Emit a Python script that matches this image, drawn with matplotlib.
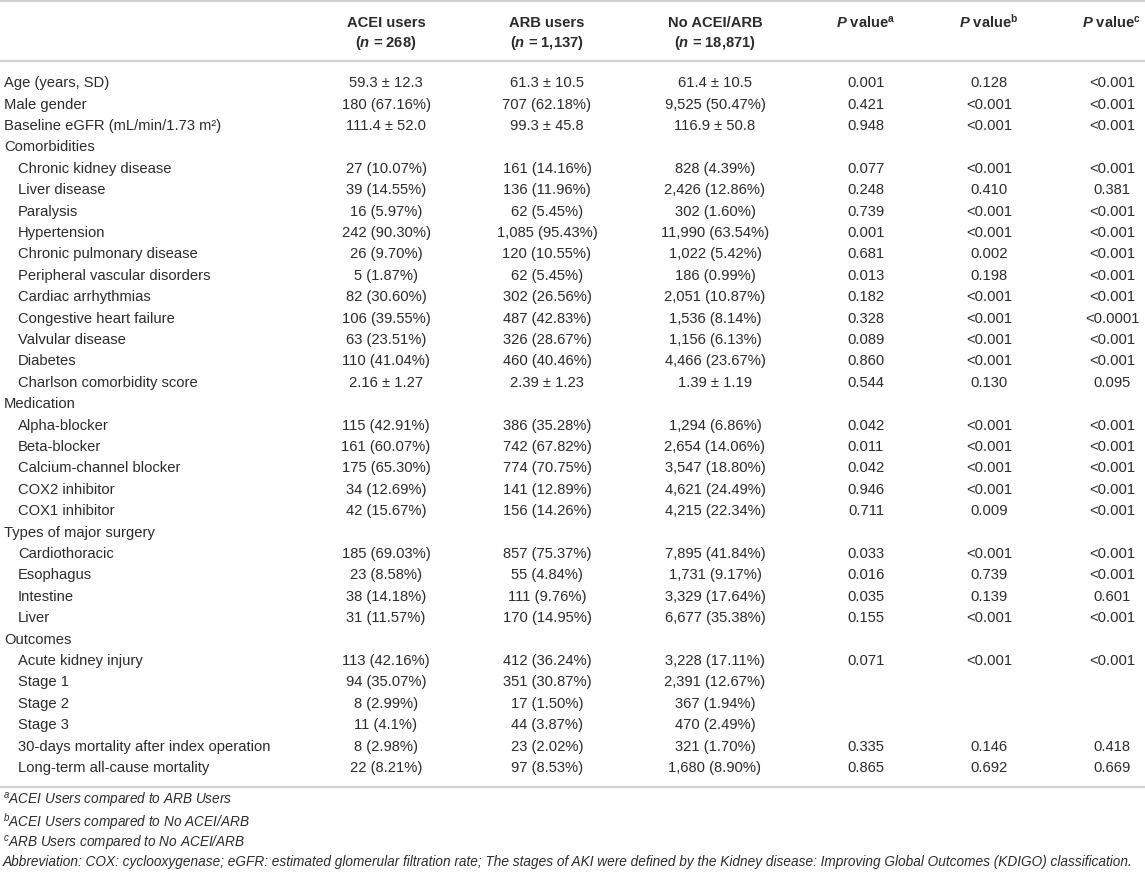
import matplotlib
matplotlib.use("Agg")
import matplotlib.pyplot as plt
from matplotlib import font_manager

# ---------------- data ----------------
col_headers_1 = ["ACEI users", "ARB users", "No ACEI/ARB"]
col_headers_2 = ["268", "1,137", "18,871"]
p_headers = ["a", "b", "c"]

row_labels = [
    "Age (years, SD)", "Male gender", "Baseline eGFR (mL/min/1.73 m\u00b2)",
    "Comorbidities",
    "Chronic kidney disease", "Liver disease", "Paralysis", "Hypertension",
    "Chronic pulmonary disease", "Peripheral vascular disorders",
    "Cardiac arrhythmias", "Congestive heart failure", "Valvular disease",
    "Diabetes", "Charlson comorbidity score",
    "Medication",
    "Alpha-blocker", "Beta-blocker", "Calcium-channel blocker",
    "COX2 inhibitor", "COX1 inhibitor",
    "Types of major surgery",
    "Cardiothoracic", "Esophagus", "Intestine", "Liver",
    "Outcomes",
    "Acute kidney injury", "Stage 1", "Stage 2", "Stage 3",
    "30-days mortality after index operation", "Long-term all-cause mortality",
]
row_indent = [0, 0, 0, 0] + [1] * 11 + [0] + [1] * 5 + [0] + [1] * 4 + [0] + [1] * 6

acei = [
    "59.3 \u00b1 12.3", "180 (67.16%)", "111.4 \u00b1 52.0", "",
    "27 (10.07%)", "39 (14.55%)", "16 (5.97%)", "242 (90.30%)", "26 (9.70%)",
    "5 (1.87%)", "82 (30.60%)", "106 (39.55%)", "63 (23.51%)", "110 (41.04%)",
    "2.16 \u00b1 1.27", "",
    "115 (42.91%)", "161 (60.07%)", "175 (65.30%)", "34 (12.69%)", "42 (15.67%)", "",
    "185 (69.03%)", "23 (8.58%)", "38 (14.18%)", "31 (11.57%)", "",
    "113 (42.16%)", "94 (35.07%)", "8 (2.99%)", "11 (4.1%)", "8 (2.98%)", "22 (8.21%)",
]
arb = [
    "61.3 \u00b1 10.5", "707 (62.18%)", "99.3 \u00b1 45.8", "",
    "161 (14.16%)", "136 (11.96%)", "62 (5.45%)", "1,085 (95.43%)", "120 (10.55%)",
    "62 (5.45%)", "302 (26.56%)", "487 (42.83%)", "326 (28.67%)", "460 (40.46%)",
    "2.39 \u00b1 1.23", "",
    "386 (35.28%)", "742 (67.82%)", "774 (70.75%)", "141 (12.89%)", "156 (14.26%)", "",
    "857 (75.37%)", "55 (4.84%)", "111 (9.76%)", "170 (14.95%)", "",
    "412 (36.24%)", "351 (30.87%)", "17 (1.50%)", "44 (3.87%)", "23 (2.02%)", "97 (8.53%)",
]
none_ = [
    "61.4 \u00b1 10.5", "9,525 (50.47%)", "116.9 \u00b1 50.8", "",
    "828 (4.39%)", "2,426 (12.86%)", "302 (1.60%)", "11,990 (63.54%)", "1,022 (5.42%)",
    "186 (0.99%)", "2,051 (10.87%)", "1,536 (8.14%)", "1,156 (6.13%)", "4,466 (23.67%)",
    "1.39 \u00b1 1.19", "",
    "1,294 (6.86%)", "2,654 (14.06%)", "3,547 (18.80%)", "4,621 (24.49%)", "4,215 (22.34%)", "",
    "7,895 (41.84%)", "1,731 (9.17%)", "3,329 (17.64%)", "6,677 (35.38%)", "",
    "3,228 (17.11%)", "2,391 (12.67%)", "367 (1.94%)", "470 (2.49%)", "321 (1.70%)", "1,680 (8.90%)",
]
p_a = [
    "0.001", "0.421", "0.948", "",
    "0.077", "0.248", "0.739", "0.001", "0.681", "0.013", "0.182", "0.328", "0.089", "0.860",
    "0.544", "",
    "0.042", "0.011", "0.042", "0.946", "0.711", "",
    "0.033", "0.016", "0.035", "0.155", "",
    "0.071", "", "", "", "0.335", "0.865",
]
p_b = [
    "0.128", "<0.001", "<0.001", "",
    "<0.001", "0.410", "<0.001", "<0.001", "0.002", "0.198", "<0.001", "<0.001", "<0.001", "<0.001",
    "0.130", "",
    "<0.001", "<0.001", "<0.001", "<0.001", "0.009", "",
    "<0.001", "0.739", "0.139", "<0.001", "",
    "<0.001", "", "", "", "0.146", "0.692",
]
p_c = [
    "<0.001", "<0.001", "<0.001", "",
    "<0.001", "0.381", "<0.001", "<0.001", "<0.001", "<0.001", "<0.001", "<0.0001", "<0.001", "<0.001",
    "0.095", "",
    "<0.001", "<0.001", "<0.001", "<0.001", "<0.001", "",
    "<0.001", "<0.001", "0.601", "<0.001", "",
    "<0.001", "", "", "", "0.418", "0.669",
]

footnote_marks = ["a", "b", "c"]
footnote_texts = [
    "ACEI Users compared to ARB Users",
    "ACEI Users compared to No ACEI/ARB",
    "ARB Users compared to No ACEI/ARB",
]
abbreviation = ("Abbreviation: COX: cyclooxygenase; eGFR: estimated glomerular filtration rate; "
                "The stages of AKI were defined by the Kidney disease: Improving Global Outcomes "
                "(KDIGO) classification.")

# ---------------- style ----------------
names = {f.name for f in font_manager.fontManager.ttflist}
FONT = "Liberation Sans"
NARROW = "Liberation Sans Narrow" if "Liberation Sans Narrow" in names else FONT

plt.rcParams["mathtext.fontset"] = "custom"
plt.rcParams["mathtext.rm"] = FONT
plt.rcParams["mathtext.bf"] = FONT + ":bold"
plt.rcParams["mathtext.it"] = FONT + ":italic:bold"
plt.rcParams["mathtext.sf"] = NARROW + ":italic"

TXT = "#2b2b2b"
LINE = "#d2d2d2"
FS = 10.6
W, H = 1145, 872

fig = plt.figure(figsize=(W / 100, H / 100), dpi=100)
ax = fig.add_axes([0, 0, 1, 1])
ax.set_xlim(0, W)
ax.set_ylim(H, 0)
ax.axis("off")

col_x = [386, 547, 715, 866, 989, 1112]
y_h1, y_h2 = 22, 42
y0, dy = 82, 21.4
cap = 5.2  # half cap height in px

# rules
for yl in (1.2, 61, 787):
    ax.axhline(yl, color=LINE, lw=1.6)

# headers
for i in range(3):
    ax.text(col_x[i], y_h1 + cap, col_headers_1[i], ha="center", va="baseline",
            fontsize=FS, fontweight="bold", family=FONT, color=TXT)
    ax.text(col_x[i], y_h2 + cap, r"($\mathit{n}$ = " + col_headers_2[i] + ")",
            ha="center", va="baseline", fontsize=FS, fontweight="bold", family=FONT, color=TXT)
for j in range(3):
    ax.text(col_x[3 + j], y_h1 + cap, r"$\mathit{P}$ value$^{\mathbf{" + p_headers[j] + "}}$",
            ha="center", va="baseline", fontsize=FS, fontweight="bold", family=FONT, color=TXT)

# body
cols = [acei, arb, none_, p_a, p_b, p_c]
for r, lab in enumerate(row_labels):
    yc = y0 + r * dy + cap
    ax.text(4 + 14 * row_indent[r], yc, lab, ha="left", va="baseline",
            fontsize=FS, family=FONT, color=TXT)
    for c, vals in enumerate(cols):
        if vals[r]:
            ax.text(col_x[c], yc, vals[r], ha="center", va="baseline",
                    fontsize=FS, family=FONT, color=TXT)

# footnotes (size chosen so the abbreviation line spans the table width)
fn_fs = 9.0
renderer = fig.canvas.get_renderer()
probe = ax.text(3, 866, abbreviation, ha="left", va="baseline",
                fontsize=fn_fs, family=NARROW, style="italic", color=TXT)
wpx = probe.get_window_extent(renderer).width
fn_fs = fn_fs * 1130.0 / wpx
probe.set_fontsize(fn_fs)

fy = [800, 822, 843]
for k in range(3):
    ax.text(3, fy[k] + 4.5, r"$^{\mathsf{" + footnote_marks[k] + "}}$" + footnote_texts[k],
            ha="left", va="baseline", fontsize=fn_fs, family=NARROW, style="italic", color=TXT)

fig.savefig("out.png", dpi=100)
